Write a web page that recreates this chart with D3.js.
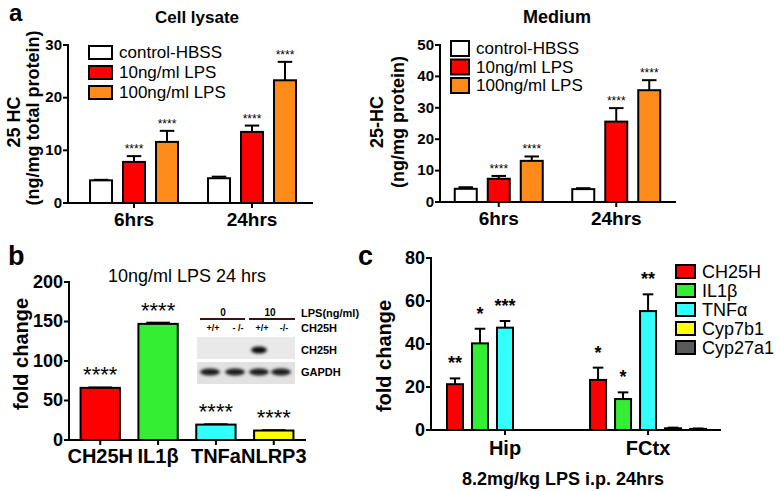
<!DOCTYPE html>
<html>
<head>
<meta charset="utf-8">
<script src="https://cdn.jsdelivr.net/npm/d3@7"></script>
<style>
  body { margin: 0; background: #fff; }
  svg text { font-family: "Liberation Sans", Arial, sans-serif; }
</style>
</head>
<body>
<svg id="fig" width="778" height="491"></svg>
<script>
// ---- panel a : 25HC in cell lysate and medium ----
var timePoints = ["6hrs", "24hrs"];
var treatments = ["control-HBSS", "10ng/ml LPS", "100ng/ml LPS"];
var treatmentColors = ["#ffffff", "#ff0000", "#ff8c1a"];

var lysateMean = [[4.3, 7.8, 11.6], [4.7, 13.5, 23.3]];
var lysateErr = [[0.1, 1.1, 2.1], [0.3, 1.2, 3.5]];
var lysateStars = [["", "****", "****"], ["", "****", "****"]];
var lysateTicks = [0, 10, 20, 30];

var mediumMean = [[4.2, 7.4, 13.1], [4.1, 25.6, 35.6]];
var mediumErr = [[0.5, 0.9, 1.4], [0.3, 4.3, 3.2]];
var mediumStars = [["", "****", "****"], ["", "****", "****"]];
var mediumTicks = [0, 10, 20, 30, 40, 50];

// ---- panel b : fold change 10ng/ml LPS 24 hrs ----
var genesB = ["CH25H", "IL1β", "TNFa", "NLRP3"];
var colorsB = ["#ff0000", "#33ee33", "#33ffff", "#ffff00"];
var foldB = [66, 147, 19.5, 12];
var errB = [0.5, 1.5, 0.4, 0.4];
var starsB = ["****", "****", "****", "****"];
var ticksB = [0, 50, 100, 150, 200];

// ---- panel c : in vivo fold change ----
var regions = ["Hip", "FCtx"];
var genesC = ["CH25H", "IL1β", "TNFα", "Cyp7b1", "Cyp27a1"];
var colorsC = ["#ff0000", "#33ee33", "#33ffff", "#ffff00", "#5a5a5a"];
var foldC = [[21.3, 40.3, 47.6, null, null], [23.3, 14.4, 55.3, 0.8, 0.5]];
var errC = [[2.7, 6.8, 3.1, null, null], [5.7, 3.1, 7.8, 0.3, 0.2]];
var starsC = [["**", "*", "***", "", ""], ["*", "*", "**", "", ""]];
var ticksC = [0, 20, 40, 60, 80];

var svg = d3.select("#fig");
svg.append("rect").attr("width", 778).attr("height", 491).attr("fill", "#fff");

// filter used to soften the blot bands
var defs = svg.append("defs");
defs.append("filter").attr("id", "blur")
  .attr("x", "-50%").attr("y", "-50%").attr("width", "200%").attr("height", "200%")
  .append("feGaussianBlur").attr("stdDeviation", 1.6);

function styleAxis(g, size) {
  g.attr("font-family", "Liberation Sans, Arial, sans-serif")
    .attr("font-size", size)
    .attr("font-weight", "bold");
  g.selectAll("path, line").attr("stroke", "#000").attr("stroke-width", 2);
  g.select(".domain").attr("stroke-linecap", "square");
  g.selectAll("text").attr("fill", "#000");
}

// grouped bar chart used by panels a and c
function groupedBars(cfg) {
  var g = svg.append("g");
  var y = d3.scaleLinear().domain([0, cfg.yMax]).range([cfg.y0, cfg.y1]);
  var x = d3.scalePoint().domain(cfg.groups).range([cfg.x0, cfg.x1])
    .padding(cfg.pad).align(cfg.align);
  var half = cfg.step * cfg.series.length / 2;
  var inner = d3.scaleBand().domain(cfg.series).range([-half, half])
    .paddingInner(cfg.gap).paddingOuter(cfg.gap / 2);
  var bw = inner.bandwidth();

  var rows = [];
  cfg.groups.forEach(function (grp, gi) {
    cfg.series.forEach(function (s, si) {
      if (cfg.means[gi][si] == null) return;
      rows.push({
        cx: x(grp) + inner(s) + bw / 2,
        mean: cfg.means[gi][si],
        err: cfg.errs[gi][si],
        star: cfg.stars[gi][si],
        color: cfg.colors[si]
      });
    });
  });

  // error bars (upper only)
  var eb = g.selectAll(".eb").data(rows).enter().append("g");
  eb.append("line")
    .attr("x1", function (d) { return d.cx; })
    .attr("x2", function (d) { return d.cx; })
    .attr("y1", function (d) { return y(d.mean); })
    .attr("y2", function (d) { return y(d.mean + d.err); })
    .attr("stroke", "#000").attr("stroke-width", 2);
  eb.append("line")
    .attr("x1", function (d) { return d.cx - bw * 0.33; })
    .attr("x2", function (d) { return d.cx + bw * 0.33; })
    .attr("y1", function (d) { return y(d.mean + d.err); })
    .attr("y2", function (d) { return y(d.mean + d.err); })
    .attr("stroke", "#000").attr("stroke-width", 2);

  g.selectAll(".bar").data(rows).enter().append("rect")
    .attr("x", function (d) { return d.cx - bw / 2; })
    .attr("y", function (d) { return y(d.mean); })
    .attr("width", bw)
    .attr("height", function (d) { return y(0) - y(d.mean); })
    .attr("fill", function (d) { return d.color; })
    .attr("stroke", "#000").attr("stroke-width", 2);

  g.selectAll(".star").data(rows).enter().append("text")
    .attr("x", function (d) { return d.cx; })
    .attr("y", function (d) { return y(d.mean + d.err) - cfg.starGap; })
    .attr("text-anchor", "middle")
    .attr("font-size", cfg.starSize)
    .attr("font-weight", cfg.starWeight)
    .text(function (d) { return d.star; });

  var ya = g.append("g").attr("transform", "translate(" + cfg.x0 + ",0)")
    .call(d3.axisLeft(y).tickValues(cfg.ticks).tickSize(5).tickSizeOuter(0).tickPadding(1).offset(0));
  styleAxis(ya, cfg.tickFont);

  var xa = g.append("g").attr("transform", "translate(0," + cfg.y0 + ")")
    .call(d3.axisBottom(x).tickSize(5).tickSizeOuter(0).tickPadding(cfg.catPad).offset(0));
  styleAxis(xa, cfg.catFont);
  return g;
}

function legend(items, colors, lx, ly, boxW, boxH, rowH, font) {
  var lg = svg.append("g").attr("transform", "translate(" + lx + "," + ly + ")");
  var row = lg.selectAll("g").data(items).enter().append("g")
    .attr("transform", function (d, i) { return "translate(0," + i * rowH + ")"; });
  row.append("rect").attr("x", 1).attr("y", 1)
    .attr("width", boxW).attr("height", boxH)
    .attr("fill", function (d, i) { return colors[i]; })
    .attr("stroke", "#000").attr("stroke-width", 2);
  row.append("text").attr("x", boxW + 8).attr("y", boxH / 2 + 1)
    .attr("dy", "0.35em").attr("font-size", font).text(function (d) { return d; });
}

function rotLabel(txt, x, y, size) {
  svg.append("text")
    .attr("transform", "translate(" + x + "," + y + ") rotate(-90)")
    .attr("text-anchor", "middle").attr("dy", "0.35em")
    .attr("font-size", size).attr("font-weight", "bold").text(txt);
}

function plainText(txt, x, y, size, weight, anchor) {
  return svg.append("text").attr("x", x).attr("y", y)
    .attr("text-anchor", anchor || "middle")
    .attr("font-size", size).attr("font-weight", weight || "normal").text(txt);
}

// panel letters
plainText("a", 9, 21, 24, "bold", "start");
plainText("b", 8, 265, 27, "bold", "start");
plainText("c", 358, 265, 27, "bold", "start");

// ---- a: cell lysate ----
groupedBars({
  groups: timePoints, series: treatments, colors: treatmentColors,
  means: lysateMean, errs: lysateErr, stars: lysateStars, ticks: lysateTicks,
  yMax: 30, y0: 203, y1: 45, x0: 68, x1: 312, pad: 0.534, align: 0.524,
  step: 33, gap: 1 / 3, starSize: 12, starGap: 3, starWeight: "normal",
  tickFont: 15, catFont: 19, catPad: 5
});
legend(treatments, treatmentColors, 88, 45, 23, 13, 20, 17);
plainText("Cell lysate", 197, 23, 17, "bold");
rotLabel("25 HC", 14, 122, 18);
rotLabel("(ng/mg total protein)", 33, 118, 18);

// ---- a: medium ----
groupedBars({
  groups: timePoints, series: treatments, colors: treatmentColors,
  means: mediumMean, errs: mediumErr, stars: mediumStars, ticks: mediumTicks,
  yMax: 50, y0: 202, y1: 45, x0: 440, x1: 675, pad: 0.5, align: 0.5,
  step: 33, gap: 1 / 3, starSize: 12, starGap: 3, starWeight: "normal",
  tickFont: 15, catFont: 19, catPad: 5
});
legend(treatments, treatmentColors, 450, 40, 18, 15, 18.5, 17);
plainText("Medium", 557, 23, 18, "bold");
rotLabel("25-HC", 377, 122, 18);
rotLabel("(ng/mg protein)", 398, 122, 18);

// ---- b: single bars ----
var yb = d3.scaleLinear().domain([0, 200]).range([440, 282]);
var xb = d3.scaleBand().domain(genesB).range([69, 305]).paddingInner(0.32).paddingOuter(0.2);
var gb = svg.append("g");
gb.selectAll(".cap").data(genesB).enter().append("line")
  .attr("x1", function (d) { return xb(d) + xb.bandwidth() * 0.2; })
  .attr("x2", function (d) { return xb(d) + xb.bandwidth() * 0.8; })
  .attr("y1", function (d, i) { return yb(foldB[i] + errB[i]); })
  .attr("y2", function (d, i) { return yb(foldB[i] + errB[i]); })
  .attr("stroke", "#000").attr("stroke-width", 2);
gb.selectAll(".bar").data(genesB).enter().append("rect")
  .attr("x", function (d) { return xb(d); })
  .attr("y", function (d, i) { return yb(foldB[i]); })
  .attr("width", xb.bandwidth())
  .attr("height", function (d, i) { return yb(0) - yb(foldB[i]); })
  .attr("fill", function (d, i) { return colorsB[i]; })
  .attr("stroke", "#000").attr("stroke-width", 2);
gb.selectAll(".star").data(genesB).enter().append("text")
  .attr("x", function (d) { return xb(d) + xb.bandwidth() / 2; })
  .attr("y", function (d, i) { return yb(foldB[i] + errB[i]) - 5; })
  .attr("text-anchor", "middle").attr("font-size", 22)
  .text(function (d, i) { return starsB[i]; });
var yba = gb.append("g").attr("transform", "translate(69,0)")
  .call(d3.axisLeft(yb).tickValues(ticksB).tickSize(5).tickSizeOuter(0).tickPadding(1).offset(0));
styleAxis(yba, 18);
var xba = gb.append("g").attr("transform", "translate(0,440)")
  .call(d3.axisBottom(xb).tickSize(5).tickSizeOuter(0).tickPadding(4).offset(0));
styleAxis(xba, 20);
plainText("10ng/ml LPS 24 hrs", 187, 282, 18);
rotLabel("fold change", 21, 354, 20);

// western blot inset (CH25H / GAPDH)
var blot = svg.append("g").attr("transform", "translate(197,305)");
var lanes = [13, 38, 62, 84];
blot.append("text").attr("x", 26).attr("y", 11).attr("text-anchor", "middle")
  .attr("font-size", 10).attr("font-weight", "bold").text("0");
blot.append("text").attr("x", 73).attr("y", 11).attr("text-anchor", "middle")
  .attr("font-size", 10).attr("font-weight", "bold").text("10");
blot.append("line").attr("x1", 3).attr("x2", 48).attr("y1", 14).attr("y2", 14)
  .attr("stroke", "#3a1414").attr("stroke-width", 2);
blot.append("line").attr("x1", 52).attr("x2", 98).attr("y1", 14).attr("y2", 14)
  .attr("stroke", "#3a1414").attr("stroke-width", 2);
blot.selectAll(".geno").data(["+/+", "- /-", "+/+", "-/-"]).enter().append("text")
  .attr("x", function (d, i) { return lanes[i] + 3; }).attr("y", 26)
  .attr("text-anchor", "middle").attr("font-size", 9).attr("font-weight", "bold")
  .text(function (d) { return d; });
blot.append("rect").attr("x", 0).attr("y", 32).attr("width", 98).attr("height", 22).attr("fill", "#e9e9e9");
blot.append("rect").attr("x", 0).attr("y", 57).attr("width", 98).attr("height", 22).attr("fill", "#e2e2e2");
blot.append("ellipse").attr("cx", lanes[2]).attr("cy", 45).attr("rx", 8).attr("ry", 3.5)
  .attr("fill", "#111").attr("filter", "url(#blur)");
blot.selectAll(".gapdh").data(lanes).enter().append("ellipse")
  .attr("cx", function (d) { return d; }).attr("cy", 67)
  .attr("rx", 10).attr("ry", 3.5)
  .attr("fill", "#1a1a1a").attr("filter", "url(#blur)");
[["LPS(ng/ml)", 12], ["CH25H", 27], ["CH25H", 49], ["GAPDH", 71]].forEach(function (t) {
  blot.append("text").attr("x", 104).attr("y", t[1]).attr("font-size", 11)
    .attr("font-weight", "bold").text(t[0]);
});

// ---- c: in vivo ----
groupedBars({
  groups: regions, series: genesC, colors: colorsC,
  means: foldC, errs: errC, stars: starsC, ticks: ticksC,
  yMax: 80, y0: 430, y1: 258, x0: 431, x1: 720, pad: 0.51, align: 0.507,
  step: 25, gap: 0.36, starSize: 18, starGap: 9, starWeight: "bold",
  tickFont: 18, catFont: 20, catPad: 6
});
legend(genesC, colorsC, 675, 264, 19, 13, 19, 18);
rotLabel("fold change", 384, 356, 20);
plainText("8.2mg/kg LPS i.p. 24hrs", 563, 485, 18, "bold");
</script>
</body>
</html>
